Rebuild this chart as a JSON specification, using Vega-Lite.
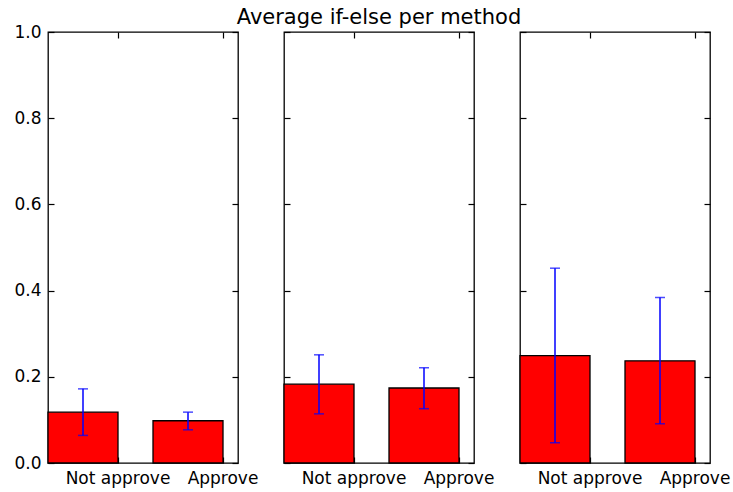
{
  "$schema": "https://vega.github.io/schema/vega-lite/v6.json",
  "background": "white",
  "padding": {"left": 13, "top": 6, "right": 3, "bottom": 4},
  "datasets": {
    "d": [
      {"panel": 1, "label": "Not approve", "value": 0.118, "lo": 0.064, "hi": 0.172},
      {"panel": 1, "label": "Approve", "value": 0.098, "lo": 0.077, "hi": 0.118},
      {"panel": 2, "label": "Not approve", "value": 0.183, "lo": 0.114, "hi": 0.251},
      {"panel": 2, "label": "Approve", "value": 0.174, "lo": 0.126, "hi": 0.221},
      {"panel": 3, "label": "Not approve", "value": 0.249, "lo": 0.047, "hi": 0.452},
      {"panel": 3, "label": "Approve", "value": 0.237, "lo": 0.091, "hi": 0.384}
    ]
  },
  "data": {"name": "d"},
  "bounds": "flush",
  "spacing": 46,
  "hconcat": [
    {
      "width": 190, "height": 431,
      "transform": [{"filter": "datum.panel == 1"}],
      "layer": [
        {"mark": {"type": "bar", "color": "red", "stroke": "black", "strokeWidth": 1.3},
         "encoding": {
           "x": {"field": "label", "type": "nominal", "sort": ["Not approve", "Approve"], "scale": {"paddingInner": 0.3333, "paddingOuter": 0.0714, "align": 0}, "axis": {"orient": "bottom", "bandPosition": 1, "labelOffset": 35, "labelAngle": 0, "title": null}},
           "y": {"field": "value", "type": "quantitative", "scale": {"domain": [0, 1], "nice": false}, "axis": {"orient": "left", "values": [0, 0.2, 0.4, 0.6, 0.8, 1], "format": ".1f", "title": null}}
         }},
        {"mark": {"type": "rule", "color": "blue", "strokeWidth": 1.5},
         "encoding": {
           "x": {"field": "label", "type": "nominal", "sort": ["Not approve", "Approve"], "axis": {"orient": "top", "bandPosition": 1, "labels": false, "title": null}},
           "y": {"field": "lo", "type": "quantitative", "axis": {"orient": "right", "values": [0, 0.2, 0.4, 0.6, 0.8, 1], "labels": false, "title": null}},
           "y2": {"field": "hi"}
         }},
        {"mark": {"type": "tick", "orient": "horizontal", "color": "blue", "size": 10, "thickness": 1.5},
         "encoding": {
           "x": {"field": "label", "type": "nominal", "sort": ["Not approve", "Approve"], "axis": null},
           "y": {"field": "lo", "type": "quantitative", "axis": null}
         }},
        {"mark": {"type": "tick", "orient": "horizontal", "color": "blue", "size": 10, "thickness": 1.5},
         "encoding": {
           "x": {"field": "label", "type": "nominal", "sort": ["Not approve", "Approve"], "axis": null},
           "y": {"field": "hi", "type": "quantitative", "axis": null}
         }}
      ],
      "resolve": {"axis": {"x": "independent", "y": "independent"}}
    },
    {
      "width": 190, "height": 431,
      "title": {"text": "Average if-else per method", "fontSize": 21, "font": "DejaVu Sans", "fontWeight": "normal", "anchor": "middle", "offset": -14, "baseline": "alphabetic", "color": "black"},
      "transform": [{"filter": "datum.panel == 2"}],
      "layer": [
        {"mark": {"type": "bar", "color": "red", "stroke": "black", "strokeWidth": 1.3},
         "encoding": {
           "x": {"field": "label", "type": "nominal", "sort": ["Not approve", "Approve"], "scale": {"paddingInner": 0.3333, "paddingOuter": 0.0714, "align": 0}, "axis": {"orient": "bottom", "bandPosition": 1, "labelOffset": 35, "labelAngle": 0, "title": null}},
           "y": {"field": "value", "type": "quantitative", "scale": {"domain": [0, 1], "nice": false}, "axis": {"orient": "left", "values": [0, 0.2, 0.4, 0.6, 0.8, 1], "labels": false, "title": null}}
         }},
        {"mark": {"type": "rule", "color": "blue", "strokeWidth": 1.5},
         "encoding": {
           "x": {"field": "label", "type": "nominal", "sort": ["Not approve", "Approve"], "axis": {"orient": "top", "bandPosition": 1, "labels": false, "title": null}},
           "y": {"field": "lo", "type": "quantitative", "axis": {"orient": "right", "values": [0, 0.2, 0.4, 0.6, 0.8, 1], "labels": false, "title": null}},
           "y2": {"field": "hi"}
         }},
        {"mark": {"type": "tick", "orient": "horizontal", "color": "blue", "size": 10, "thickness": 1.5},
         "encoding": {
           "x": {"field": "label", "type": "nominal", "sort": ["Not approve", "Approve"], "axis": null},
           "y": {"field": "lo", "type": "quantitative", "axis": null}
         }},
        {"mark": {"type": "tick", "orient": "horizontal", "color": "blue", "size": 10, "thickness": 1.5},
         "encoding": {
           "x": {"field": "label", "type": "nominal", "sort": ["Not approve", "Approve"], "axis": null},
           "y": {"field": "hi", "type": "quantitative", "axis": null}
         }}
      ],
      "resolve": {"axis": {"x": "independent", "y": "independent"}}
    },
    {
      "width": 190, "height": 431,
      "transform": [{"filter": "datum.panel == 3"}],
      "layer": [
        {"mark": {"type": "bar", "color": "red", "stroke": "black", "strokeWidth": 1.3},
         "encoding": {
           "x": {"field": "label", "type": "nominal", "sort": ["Not approve", "Approve"], "scale": {"paddingInner": 0.3333, "paddingOuter": 0.0714, "align": 0}, "axis": {"orient": "bottom", "bandPosition": 1, "labelOffset": 35, "labelAngle": 0, "title": null}},
           "y": {"field": "value", "type": "quantitative", "scale": {"domain": [0, 1], "nice": false}, "axis": {"orient": "left", "values": [0, 0.2, 0.4, 0.6, 0.8, 1], "labels": false, "title": null}}
         }},
        {"mark": {"type": "rule", "color": "blue", "strokeWidth": 1.5},
         "encoding": {
           "x": {"field": "label", "type": "nominal", "sort": ["Not approve", "Approve"], "axis": {"orient": "top", "bandPosition": 1, "labels": false, "title": null}},
           "y": {"field": "lo", "type": "quantitative", "axis": {"orient": "right", "values": [0, 0.2, 0.4, 0.6, 0.8, 1], "labels": false, "title": null}},
           "y2": {"field": "hi"}
         }},
        {"mark": {"type": "tick", "orient": "horizontal", "color": "blue", "size": 10, "thickness": 1.5},
         "encoding": {
           "x": {"field": "label", "type": "nominal", "sort": ["Not approve", "Approve"], "axis": null},
           "y": {"field": "lo", "type": "quantitative", "axis": null}
         }},
        {"mark": {"type": "tick", "orient": "horizontal", "color": "blue", "size": 10, "thickness": 1.5},
         "encoding": {
           "x": {"field": "label", "type": "nominal", "sort": ["Not approve", "Approve"], "axis": null},
           "y": {"field": "hi", "type": "quantitative", "axis": null}
         }}
      ],
      "resolve": {"axis": {"x": "independent", "y": "independent"}}
    }
  ],
  "config": {
    "view": {"stroke": "black", "strokeWidth": 1.3},
    "axis": {"labelFont": "DejaVu Sans", "labelFontSize": 17, "labelColor": "black", "tickColor": "black", "tickSize": -6, "tickWidth": 1.2, "domain": false, "grid": false, "labelPadding": 13, "minExtent": 0},
    "axisLeft": {"labelPadding": 13}
  }
}
